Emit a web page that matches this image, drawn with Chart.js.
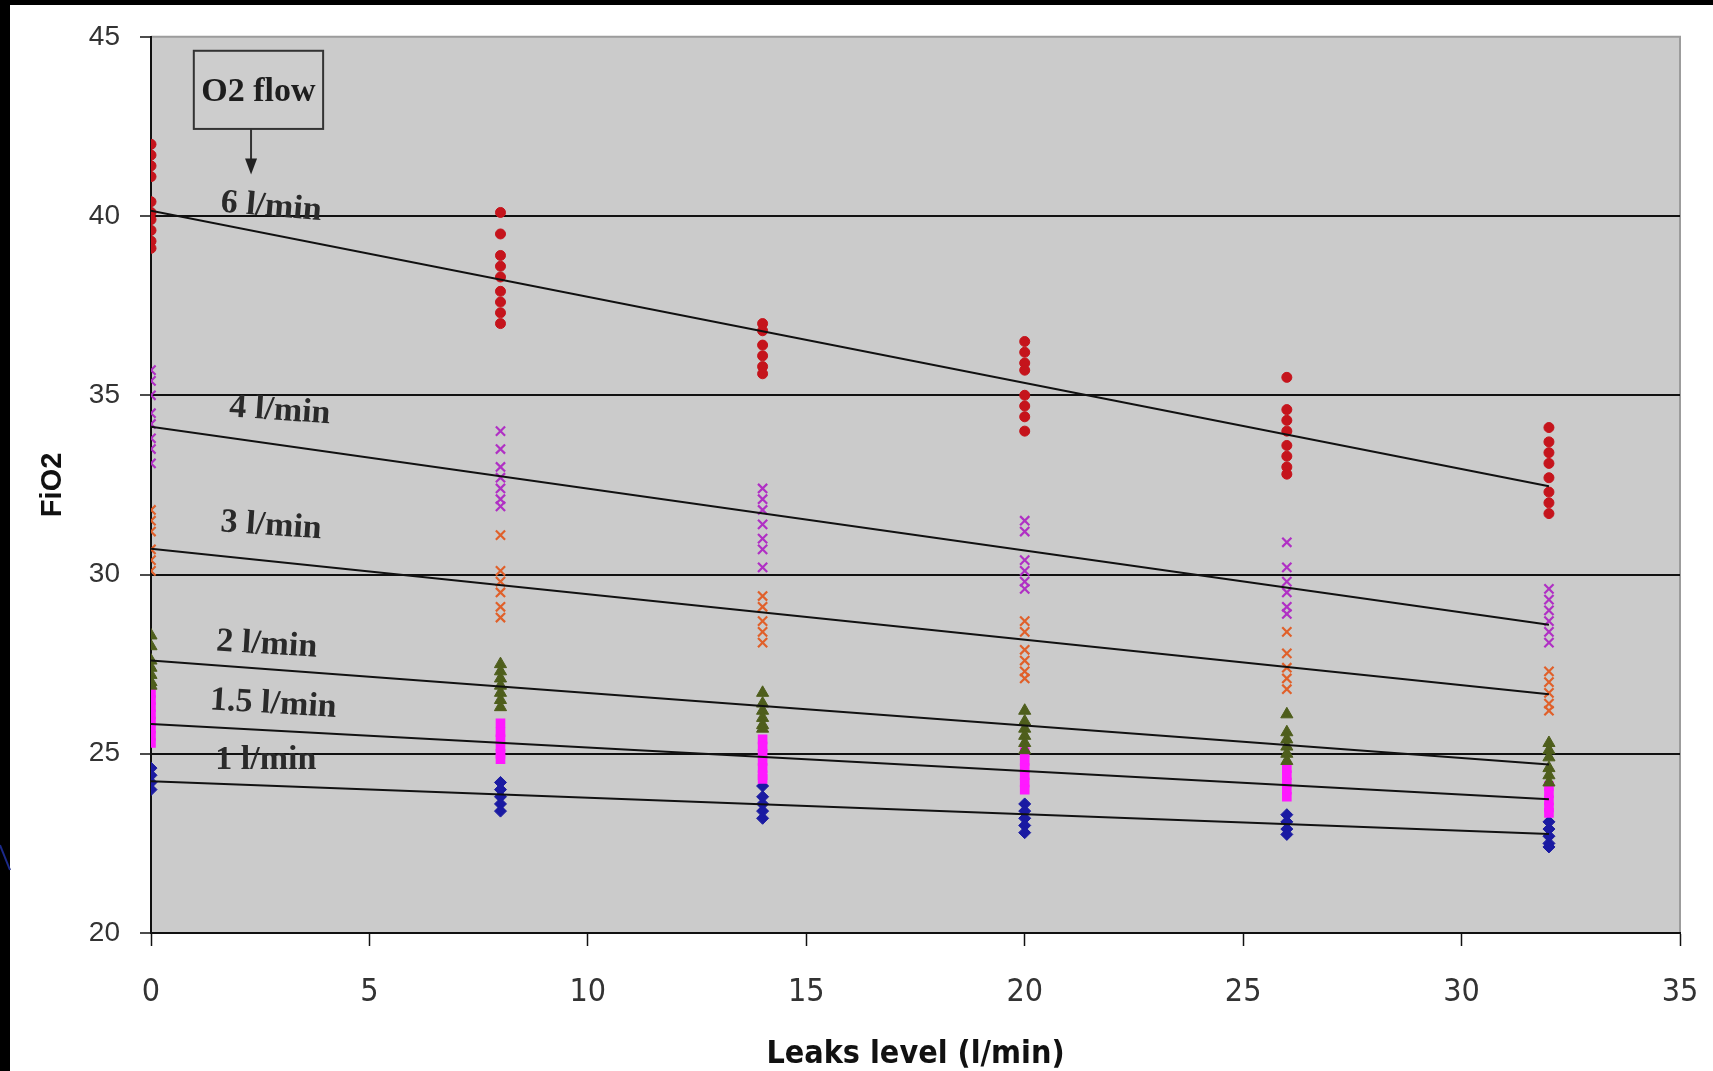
<!DOCTYPE html>
<html>
<head>
<meta charset="utf-8">
<script src="https://cdn.jsdelivr.net/npm/chart.js@4.4.1/dist/chart.umd.min.js"></script>
<style>
  html, body { margin: 0; padding: 0; background: #fff; }
</style>
</head>
<body>
<canvas id="chart" width="1713" height="1071"></canvas>
<script>
// leak levels (l/min) where FiO2 was measured
const leaks = [0, 8, 14, 20, 26, 32];

// FiO2 readings per leak level, one array per O2 flow
const flow6 = [
  [42.0, 41.7, 41.4, 41.1, 40.4, 40.1, 39.9, 39.6, 39.3, 39.1],
  [40.1, 39.5, 38.9, 38.6, 38.3, 37.9, 37.6, 37.3, 37.0],
  [37.0, 36.8, 36.4, 36.1, 35.8, 35.6],
  [36.5, 36.2, 35.9, 35.7, 35.0, 34.7, 34.4, 34.0],
  [35.5, 34.6, 34.3, 34.0, 33.6, 33.3, 33.0, 32.8],
  [34.1, 33.7, 33.4, 33.1, 32.7, 32.3, 32.0, 31.7]
];
const flow4 = [
  [35.7, 35.4, 35.0, 34.5, 34.2, 33.8, 33.5, 33.1],
  [34.0, 33.5, 33.0, 32.7, 32.4, 32.1, 31.9],
  [32.4, 32.1, 31.8, 31.4, 31.0, 30.7, 30.2],
  [31.5, 31.2, 30.4, 30.1, 29.8, 29.6],
  [30.9, 30.2, 29.8, 29.5, 29.1, 28.9],
  [29.6, 29.3, 29.0, 28.7, 28.4, 28.1]
];
const flow3 = [
  [31.8, 31.5, 31.2, 30.7, 30.4, 30.1],
  [31.1, 30.1, 29.8, 29.5, 29.1, 28.8],
  [29.4, 29.1, 28.7, 28.4, 28.1],
  [28.7, 28.4, 27.9, 27.6, 27.3, 27.1],
  [28.4, 27.8, 27.4, 27.1, 26.8],
  [27.3, 27.0, 26.7, 26.4, 26.2]
];
const flow2 = [
  [28.3, 28.0, 27.6, 27.4, 27.2, 27.0, 26.9],
  [27.5, 27.3, 27.1, 26.9, 26.7, 26.5, 26.3],
  [26.7, 26.4, 26.2, 26.0, 25.8, 25.7],
  [26.2, 25.9, 25.7, 25.5, 25.3, 25.1],
  [26.1, 25.6, 25.4, 25.2, 25.0, 24.8],
  [25.3, 25.1, 24.9, 24.6, 24.4, 24.2]
];
const flow15 = [
  [26.7, 26.5, 26.3, 26.1, 25.9, 25.7, 25.5, 25.3],
  [25.85, 25.6, 25.4, 25.2, 25.0, 24.85],
  [25.4, 25.2, 25.0, 24.8, 24.6, 24.4, 24.3],
  [25.05, 24.8, 24.6, 24.4, 24.2, 24.0],
  [24.6, 24.4, 24.2, 24.0, 23.8],
  [24.1, 23.9, 23.7, 23.5, 23.35]
];
const flow1 = [
  [24.6, 24.4, 24.2, 24.0],
  [24.2, 24.0, 23.8, 23.6, 23.4],
  [24.1, 23.8, 23.6, 23.4, 23.2],
  [23.6, 23.4, 23.2, 23.0, 22.8],
  [23.3, 23.1, 22.9, 22.75],
  [23.1, 22.9, 22.7, 22.5, 22.4]
];

// linear trend lines, value at leak 0 and at leak 32
const trendX = [0, 32];
const trend6 = [40.15, 32.46];
const trend4 = [34.12, 28.6];
const trend3 = [30.72, 26.66];
const trend2 = [27.6, 24.7];
const trend15 = [25.83, 23.73];
const trend1 = [24.23, 22.76];

const flowLabels = ["6 l/min", "4 l/min", "3 l/min", "2 l/min", "1.5 l/min", "1 l/min"];

function toPoints(groups) {
  const pts = [];
  groups.forEach((vals, i) => {
    vals.forEach((v) => pts.push({ x: leaks[i], y: v }));
  });
  return pts;
}

function trendLine(vals) {
  return {
    type: "line",
    data: trendX.map((x, i) => ({ x: x, y: vals[i] })),
    borderColor: "#111",
    borderWidth: 2,
    pointRadius: 0,
    fill: false,
    order: 0
  };
}

function points(groups, style, color, radius, bw) {
  return {
    data: toPoints(groups),
    pointStyle: style,
    pointRadius: radius,
    pointBackgroundColor: color,
    pointBorderColor: color,
    pointBorderWidth: bw,
    showLine: false,
    order: 1
  };
}

// slide frame, grey plot area and its grey top/right edge
const background = {
  id: "background",
  beforeDraw(chart) {
    const { ctx, chartArea: a } = chart;
    ctx.save();
    ctx.fillStyle = "#fff";
    ctx.fillRect(0, 0, chart.width, chart.height);
    ctx.fillStyle = "#000";
    ctx.fillRect(0, 0, chart.width, 5);
    ctx.fillRect(0, 0, 10, chart.height);
    ctx.strokeStyle = "#1c2a8a";
    ctx.lineWidth = 2;
    ctx.beginPath();
    ctx.moveTo(0, 845);
    ctx.lineTo(10, 870);
    ctx.stroke();
    ctx.fillStyle = "#cbcbcb";
    ctx.fillRect(a.left, a.top, a.right - a.left, a.bottom - a.top);
    ctx.strokeStyle = "#9c9c9c";
    ctx.lineWidth = 2;
    ctx.beginPath();
    ctx.moveTo(a.left, a.top);
    ctx.lineTo(a.right, a.top);
    ctx.lineTo(a.right, a.bottom);
    ctx.stroke();
    ctx.restore();
  }
};

// "O2 flow" box with arrow and the flow labels along the lines
const annotations = {
  id: "annotations",
  afterDatasetsDraw(chart) {
    const { ctx, scales } = chart;
    const px = (v) => scales.x.getPixelForValue(v);
    const py = (v) => scales.y.getPixelForValue(v);
    ctx.save();
    ctx.font = "bold 34px 'Liberation Serif', 'Times New Roman', serif";
    ctx.textAlign = "center";
    ctx.textBaseline = "middle";

    const bx0 = px(0.98), bx1 = px(3.94), by0 = py(44.61), by1 = py(42.43);
    ctx.fillStyle = "#cdcdcd";
    ctx.fillRect(bx0, by0, bx1 - bx0, by1 - by0);
    ctx.strokeStyle = "#333";
    ctx.lineWidth = 2;
    ctx.strokeRect(bx0, by0, bx1 - bx0, by1 - by0);
    ctx.fillStyle = "#1e1e1e";
    ctx.fillText("O2 flow", (bx0 + bx1) / 2, (by0 + by1) / 2 + 2);

    const ax = px(2.29), ay = py(41.16);
    ctx.beginPath();
    ctx.moveTo(ax, by1);
    ctx.lineTo(ax, ay - 10);
    ctx.stroke();
    ctx.fillStyle = "#222";
    ctx.beginPath();
    ctx.moveTo(ax - 6, ay - 16);
    ctx.lineTo(ax + 6, ay - 16);
    ctx.lineTo(ax, ay);
    ctx.closePath();
    ctx.fill();

    const lx = [2.75, 2.95, 2.75, 2.65, 2.8, 2.63];
    const ly = [40.25, 34.56, 31.35, 28.04, 26.38, 24.83];
    const tilt = [5, 4, 4, 3.5, 3.5, 0];
    ctx.fillStyle = "#2a2a2a";
    flowLabels.forEach((t, i) => {
      ctx.save();
      ctx.translate(px(lx[i]), py(ly[i]));
      ctx.rotate((tilt[i] * Math.PI) / 180);
      ctx.fillText(t, 0, 0);
      ctx.restore();
    });
    ctx.restore();
  }
};

const ctx = document.getElementById("chart").getContext("2d");
new Chart(ctx, {
  type: "scatter",
  data: {
    datasets: [
      trendLine(trend6),
      trendLine(trend4),
      trendLine(trend3),
      trendLine(trend2),
      trendLine(trend15),
      trendLine(trend1),
      points(flow6, "circle", "#c5141c", 5, 1),
      points(flow4, "crossRot", "#b030c4", 6.5, 2.2),
      points(flow3, "crossRot", "#e0602a", 6.5, 2.2),
      points(flow2, "triangle", "#4e5e1c", 7, 1),
      points(flow15, "rect", "#ff19ff", 6.8, 0),
      points(flow1, "rectRot", "#1a1aa2", 6, 1)
    ]
  },
  options: {
    responsive: false,
    animation: false,
    layout: { padding: { top: 28, right: 33, left: 0, bottom: 0 } },
    plugins: {
      legend: { display: false },
      tooltip: { enabled: false }
    },
    scales: {
      x: {
        type: "linear",
        min: 0,
        max: 35,
        ticks: {
          stepSize: 5,
          padding: 14,
          color: "#333",
          font: { family: "'Liberation Sans Narrow', 'DejaVu Sans Condensed', 'Liberation Sans'", size: 32, lineHeight: 2.05 }
        },
        grid: {
          drawOnChartArea: false,
          tickColor: "#111",
          tickLength: 13,
          tickWidth: 1.5
        },
        border: { color: "#111", width: 2 },
        title: {
          display: true,
          text: "Leaks level (l/min)",
          color: "#111",
          padding: { top: 0, bottom: -3 },
          font: { family: "'Liberation Sans Narrow', 'DejaVu Sans Condensed', 'Liberation Sans'", size: 32, weight: "bold" }
        },
        afterFit(scale) {
          scale.height = 138;
        }
      },
      y: {
        min: 20,
        max: 45,
        ticks: {
          stepSize: 5,
          padding: 20,
          color: "#333",
          font: { family: "'Liberation Sans', Arial", size: 28 }
        },
        grid: {
          color: (c) => (c.tick && (c.tick.value === 20 || c.tick.value === 45) ? "rgba(0,0,0,0)" : "#111"),
          lineWidth: 2,
          tickColor: "#111",
          tickLength: 11,
          tickWidth: 1.5
        },
        border: { color: "#111", width: 2 },
        title: {
          display: true,
          text: "FiO2",
          color: "#111",
          padding: { top: 36, bottom: 0 },
          font: { family: "'Liberation Sans', Arial", size: 29, weight: "bold" }
        },
        afterFit(scale) {
          scale.width = 151;
        }
      }
    }
  },
  plugins: [background, annotations]
});
</script>
</body>
</html>
